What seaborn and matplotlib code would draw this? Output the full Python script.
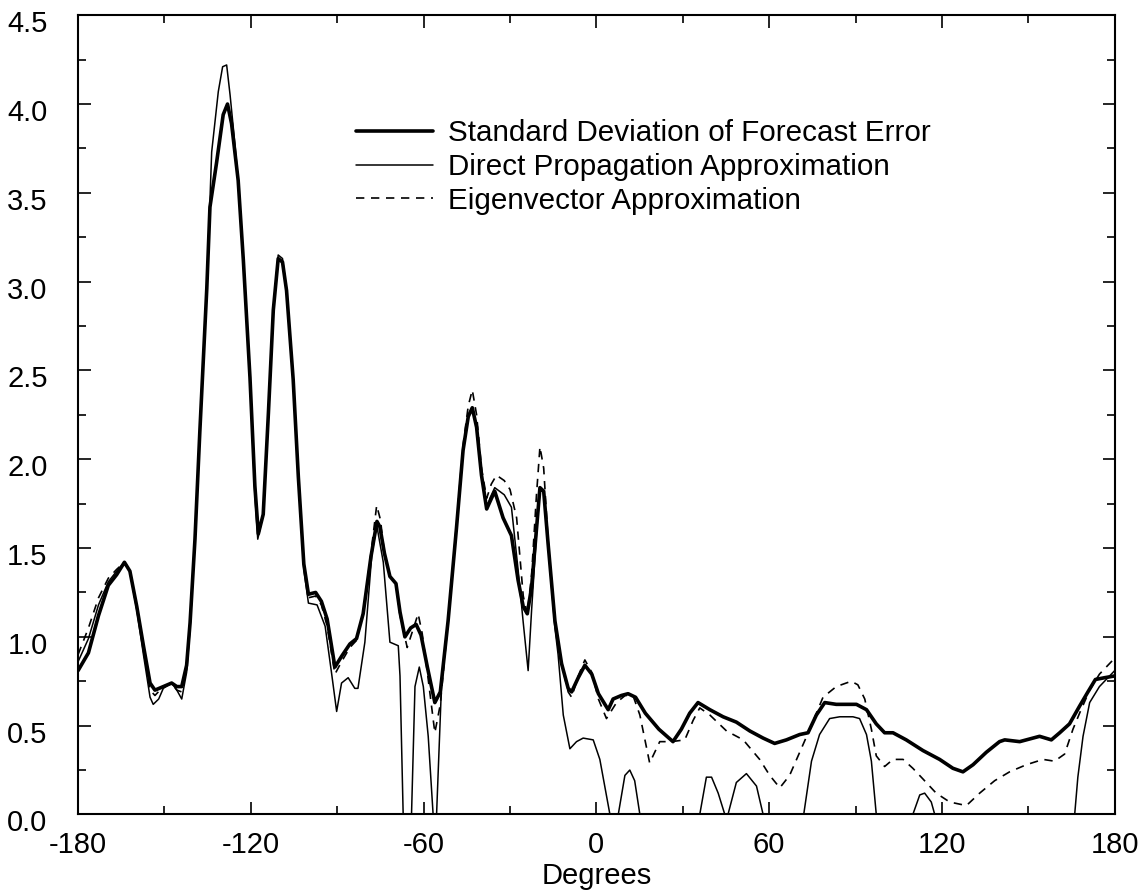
import numpy as np
import pandas as pd
import matplotlib
matplotlib.use("Agg")
import matplotlib.pyplot as plt
import seaborn as sns
from matplotlib.ticker import MultipleLocator, FormatStrFormatter
from matplotlib.transforms import ScaledTranslation

# ---- data ----
sd_x = [-180, -176.4, -172.9, -169.5, -166.6, -163.9, -162, -159.6, -157.3, -155, -153.3, -150.4, -147.5,
        -145.7, -144, -142.3, -141.1, -139.4, -137.7, -135.3, -134.2, -131.9, -129.6, -128.1, -126.7, -124.4,
        -122.6, -120.3, -118.6, -117.4, -115.7, -113.9, -112.2, -110.5, -109, -107.6, -105.3, -103.5, -101.6,
        -100, -97.5, -95.5, -93.5, -90.8, -88.5, -85.6, -83.3, -81, -78.3, -76.2, -75.2, -73.6, -71.7, -69.6,
        -68.2, -66.5, -64.5, -62.6, -60.9, -58.7, -56.1, -54.2, -51.5, -48.6, -46.3, -44.5, -43.1, -41.6,
        -39.9, -38.1, -37, -35.3, -32.4, -29.5, -27.2, -25.4, -24, -22.5, -20.8, -19.6, -18.3, -16.8, -14.4,
        -12.1, -9.8, -8.6, -6.3, -4, -1.6, 0.7, 4.1, 5.8, 8.7, 11, 13.6, 17, 21.7, 26.6, 29.5, 32.4, 35.3,
        39.4, 44, 48.6, 53.3, 57.9, 61.9, 66, 70.6, 73.5, 76.4, 79.3, 83.3, 86.8, 90.3, 93.8, 97.2, 100.1,
        103, 107.6, 113.4, 119.2, 123.8, 127.3, 130.8, 135.4, 140, 141.8, 147, 153.9, 158, 160.9, 164.3,
        167.8, 170.7, 173.3, 176.5, 180]
sd_y = [0.81, 0.91, 1.12, 1.29, 1.35, 1.42, 1.37, 1.17, 0.95, 0.74, 0.70, 0.72, 0.74,
        0.72, 0.72, 0.84, 1.08, 1.55, 2.16, 2.96, 3.42, 3.67, 3.94, 4.00, 3.89, 3.57,
        3.12, 2.46, 1.85, 1.58, 1.69, 2.26, 2.84, 3.13, 3.11, 2.95, 2.45, 1.90, 1.41,
        1.24, 1.25, 1.20, 1.10, 0.83, 0.89, 0.96, 0.99, 1.13, 1.45, 1.65, 1.62, 1.47, 1.34, 1.30,
        1.14, 1.00, 1.05, 1.07, 1.01, 0.83, 0.63, 0.69, 1.09, 1.61, 2.05, 2.24, 2.29, 2.18,
        1.91, 1.72, 1.76, 1.82, 1.67, 1.57, 1.32, 1.17, 1.13, 1.28, 1.61, 1.84, 1.82, 1.53, 1.09,
        0.85, 0.71, 0.69, 0.77, 0.84, 0.79, 0.68, 0.59, 0.65, 0.67, 0.68, 0.66, 0.57, 0.48, 0.41, 0.48, 0.57, 0.63,
        0.59, 0.55, 0.52, 0.47, 0.43, 0.40, 0.42, 0.45, 0.46, 0.56, 0.63, 0.62, 0.62, 0.62, 0.59, 0.51, 0.46,
        0.46, 0.42, 0.36, 0.31, 0.26, 0.24, 0.28, 0.35, 0.41, 0.42, 0.41, 0.44, 0.42, 0.46, 0.51,
        0.61, 0.69, 0.76, 0.77, 0.78]

dp_x = [-180, -176.4, -172.9, -169.5, -166.6, -163.9, -162, -159.6, -157.3, -155, -153.9, -152, -150.4,
        -147.5, -145.7, -144, -142.3, -141.1, -139.4, -137.7, -135.3, -134.2, -133.6, -131.3, -129.8, -128.4,
        -127.2, -125.5, -124.4, -122.6, -120.3, -118.6, -117.6, -115.7, -113.9, -112.2, -110.5, -109, -107.6,
        -105.3, -103.5, -101.6, -100, -97, -94.2, -92, -90.2, -88.5, -86.2, -83.9, -82.8, -80.4, -78, -76.3,
        -74, -71.7, -68.8, -68.2, -67.1, -64.2, -63, -61.5, -60.1, -58.4, -56.7, -55.5, -53.8, -51.5, -48.6,
        -46.3, -44.5, -43.1, -41.6, -39.9, -38.1, -37, -35.3, -32, -29.5, -27.2, -25.4, -23.7, -22.5, -20.8,
        -19.6, -18.3, -16.8, -14.4, -13.3, -11.5, -9.2, -6.9, -4.6, -1.1, 1.2, 2.9, 4.7, 7.6, 9.9, 11.6,
        13.3, 15.1, 35.9, 38.2, 40, 42.3, 44.6, 45.7, 48.6, 52.1, 55.6, 57.9, 72, 74.7, 77.5, 81, 84.5, 89.1,
        91.4, 93.8, 95.5, 97.2, 109.9, 112.3, 114, 116.3, 117.5, 166.1, 167.2, 169, 171.3, 174.7, 178.2, 180]
dp_y = [0.86, 0.99, 1.18, 1.31, 1.37, 1.42, 1.37, 1.15, 0.90, 0.66, 0.62, 0.65, 0.71,
        0.74, 0.70, 0.65, 0.80, 1.05, 1.55, 2.16, 2.96, 3.45, 3.73, 4.07, 4.21, 4.22,
        4.05, 3.77, 3.57, 3.12, 2.46, 1.80, 1.55, 1.69, 2.26, 2.84, 3.15, 3.13, 2.95,
        2.45, 1.90, 1.38, 1.19, 1.18, 1.06, 0.80, 0.58, 0.74, 0.77, 0.71, 0.71, 0.97, 1.46, 1.63,
        1.42, 0.97, 0.95, 0.78, 0.0, 0.0, 0.72, 0.83, 0.72, 0.44, 0.0, 0.0, 0.72, 1.09, 1.61,
        2.05, 2.24, 2.29, 2.18, 1.91, 1.72, 1.78, 1.84, 1.80, 1.73, 1.38, 1.08, 0.81, 1.15, 1.58,
        1.82, 1.82, 1.53, 1.05, 0.90, 0.56, 0.37, 0.41, 0.43, 0.42, 0.31, 0.16, 0.0, 0.0, 0.22, 0.25,
        0.19, 0.0, 0.0, 0.21, 0.21, 0.12, 0.0, 0.0, 0.18, 0.23, 0.16, 0.0, 0.0, 0.30, 0.45, 0.54, 0.55, 0.55,
        0.54, 0.45, 0.30, 0.0, 0.0, 0.11, 0.12, 0.07, 0.0, 0.0, 0.21, 0.44, 0.63, 0.72, 0.78, 0.81]

ev_x = [-180, -176.4, -172.9, -169.5, -166.6, -163.9, -162, -159.6, -157.3, -155, -153.3, -150.4, -147.5,
        -145.7, -144, -142.3, -141.1, -139.4, -137.7, -135.3, -134.2, -131.9, -129.6, -128.1, -126.7, -124.4,
        -122.6, -120.3, -118.6, -117.4, -115.7, -113.9, -112.2, -110.5, -109, -107.6, -105.3, -103.5, -101.6,
        -100, -97.5, -95.5, -93.5, -90.8, -88.5, -85.6, -83.3, -81, -78.3, -76.3, -75, -73.6, -71.7, -69.6,
        -68.2, -65.7, -63.5, -61.9, -60.5, -58.7, -56.1, -54.2, -51.5, -48.6, -46.3, -44.5, -43.1, -41.6,
        -39.9, -38.1, -36.5, -34.7, -32, -30, -27.7, -25.4, -24, -22.5, -20.8, -19.6, -18.3, -16.8, -14.4,
        -12.1, -9.8, -8.6, -6.3, -4, -1.6, 0.7, 3.5, 7, 10, 12.7, 15.1, 18.5, 22, 26.1, 30.7, 33.6, 35.9,
        39.4, 45.2, 51, 56.7, 60.2, 63.7, 67.1, 70.6, 74.1, 78.7, 83.3, 88.5, 90.8, 93.2, 95.5, 97.2, 100.1,
        103, 106.5, 109.9, 113.4, 118, 122.7, 128.5, 133.1, 138.3, 143.5, 149.3, 155.1, 159.1, 162.6, 165.5,
        167.8, 171.3, 174.7, 178.8, 180]
ev_y = [0.90, 1.05, 1.22, 1.33, 1.38, 1.42, 1.37, 1.16, 0.93, 0.70, 0.67, 0.72, 0.74,
        0.70, 0.69, 0.82, 1.07, 1.55, 2.16, 2.96, 3.42, 3.67, 3.94, 4.00, 3.89, 3.57,
        3.12, 2.46, 1.85, 1.58, 1.69, 2.26, 2.84, 3.13, 3.11, 2.95, 2.45, 1.90, 1.41,
        1.22, 1.23, 1.18, 1.06, 0.79, 0.86, 0.94, 0.98, 1.13, 1.47, 1.74, 1.66, 1.47, 1.34, 1.30,
        1.12, 0.94, 1.05, 1.13, 1.02, 0.80, 0.46, 0.62, 1.09, 1.63, 2.08, 2.30, 2.39, 2.25,
        1.95, 1.78, 1.86, 1.91, 1.88, 1.83, 1.67, 1.23, 1.13, 1.35, 1.80, 2.07, 1.95, 1.55, 1.09,
        0.85, 0.69, 0.66, 0.78, 0.87, 0.80, 0.65, 0.54, 0.63, 0.67, 0.67, 0.56, 0.29, 0.41, 0.41, 0.42, 0.53, 0.60,
        0.56, 0.47, 0.42, 0.31, 0.22, 0.15, 0.22, 0.35, 0.48, 0.66, 0.72, 0.75, 0.73, 0.65, 0.48, 0.33, 0.27,
        0.31, 0.31, 0.26, 0.20, 0.12, 0.07, 0.05, 0.12, 0.19, 0.24, 0.28, 0.31, 0.30, 0.34, 0.48,
        0.57, 0.70, 0.79, 0.86, 0.88]

labels = ["Standard Deviation of Forecast Error",
          "Direct Propagation Approximation",
          "Eigenvector Approximation"]
x_ticks = [-180, -120, -60, 0, 60, 120, 180]
x_label = "Degrees"

# ---- plotting ----
sns.set_theme(style="ticks")
plt.rcParams['font.family'] = ['Liberation Sans', 'DejaVu Sans']
plt.rcParams['text.color'] = 'black'
plt.rcParams['axes.labelcolor'] = 'black'

fig = plt.figure(figsize=(11.48, 8.96), dpi=100)
ax = fig.add_axes([0.068, 0.091, 0.903, 0.892])

sns.lineplot(x=sd_x, y=sd_y, ax=ax, color="black", linewidth=2.6, sort=False,
             estimator=None, label=labels[0])
sns.lineplot(x=dp_x, y=dp_y, ax=ax, color="black", linewidth=1.1, sort=False,
             estimator=None, label=labels[1])
sns.lineplot(x=ev_x, y=ev_y, ax=ax, color="black", linewidth=1.2, sort=False,
             estimator=None, label=labels[2], linestyle=(0, (5, 4)))

ax.set_xlim(-180, 180)
ax.set_ylim(0, 4.5)
ax.set_xticks(x_ticks)
ax.set_xticklabels([str(t) for t in x_ticks])
ax.xaxis.set_minor_locator(MultipleLocator(30))
ax.yaxis.set_major_locator(MultipleLocator(0.5))
ax.yaxis.set_minor_locator(MultipleLocator(0.25))
ax.yaxis.set_major_formatter(FormatStrFormatter('%.1f'))

ax.tick_params(which="both", direction="in", top=True, right=True, color="black",
               width=1.2, labelsize=21, labelcolor="black")
ax.tick_params(which="major", length=9)
ax.tick_params(which="minor", length=6)
ax.tick_params(axis="y", which="major", pad=22)
ax.tick_params(axis="x", which="major", pad=12)
# reference y labels sit slightly below their ticks
offset = ScaledTranslation(0, -6 / 100, fig.dpi_scale_trans)
for lab in ax.get_yticklabels():
    lab.set_transform(lab.get_transform() + offset)

for s in ax.spines.values():
    s.set_linewidth(1.5)
    s.set_color("black")

ax.set_xlabel(x_label, fontsize=21, color="black", labelpad=2)
ax.set_ylabel("")

leg = ax.legend(loc="upper left", bbox_to_anchor=(0.257, 0.885), frameon=False,
                fontsize=21.3, handlelength=2.6, handletextpad=0.5, labelspacing=0.2,
                borderaxespad=0)
for t in leg.get_texts():
    t.set_color("black")

fig.savefig("out.png", dpi=100)
